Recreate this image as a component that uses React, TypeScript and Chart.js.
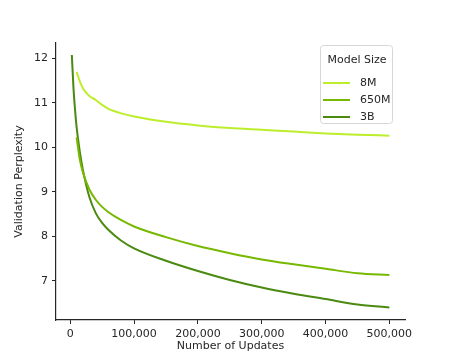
import React, { useEffect, useRef } from "react";
import { Chart, registerables } from "chart.js";

Chart.register(...registerables);

const updates = [2500, 5000, 7500, 10000, 15000, 20000, 30000, 40000, 50000, 60000, 80000, 100000, 150000, 200000, 250000, 300000, 350000, 400000, 450000, 500000];
const ppl8M = [null, null, null, 11.69, 11.48, 11.32, 11.15, 11.06, 10.95, 10.86, 10.76, 10.69, 10.57, 10.49, 10.43, 10.39, 10.35, 10.31, 10.28, 10.26];
const ppl650M = [null, null, null, 10.22, 9.72, 9.43, 9.05, 8.82, 8.66, 8.54, 8.36, 8.22, 7.98, 7.78, 7.62, 7.48, 7.37, 7.27, 7.17, 7.13];
const ppl3B = [12.07, 11.35, 10.85, 10.45, 9.9, 9.48, 8.88, 8.52, 8.3, 8.14, 7.9, 7.73, 7.45, 7.22, 7.02, 6.85, 6.71, 6.59, 6.47, 6.4];

const seriesLabels = ["8M", "650M", "3B"];
const seriesColors = ["#bdee2c", "#76b900", "#4a8a10"];
const legendTitle = "Model Size";
const xTicks = [0, 100000, 200000, 300000, 400000, 500000];
const yTicks = [7, 8, 9, 10, 11, 12];
const xTitle = "Number of Updates";
const yTitle = "Validation Perplexity";

const FONT = "'DejaVu Sans', sans-serif";
const TEXT = "#262626";

const legendPlugin = {
  id: "boxLegend",
  afterDraw(chart: any) {
    const { ctx, chartArea } = chart;
    const right = chartArea.right - 13;
    const top = chartArea.top + 2;
    const w = 72;
    const h = 78;
    const left = right - w;
    ctx.save();
    ctx.fillStyle = "rgba(255,255,255,0.85)";
    ctx.strokeStyle = "#d6d6d6";
    ctx.lineWidth = 1;
    ctx.beginPath();
    if (ctx.roundRect) ctx.roundRect(left + 0.5, top + 0.5, w, h, 3);
    else ctx.rect(left + 0.5, top + 0.5, w, h);
    ctx.fill();
    ctx.stroke();
    ctx.font = `11px ${FONT}`;
    ctx.fillStyle = TEXT;
    ctx.textBaseline = "middle";
    ctx.textAlign = "center";
    ctx.fillText(legendTitle, left + w / 2 + 1, top + 15);
    ctx.textAlign = "left";
    chart.data.datasets.forEach((ds: any, i: number) => {
      const y = top + 38 + i * 17;
      ctx.strokeStyle = ds.borderColor;
      ctx.lineWidth = 2;
      ctx.beginPath();
      ctx.moveTo(left + 3, y);
      ctx.lineTo(left + 30, y);
      ctx.stroke();
      ctx.fillStyle = TEXT;
      ctx.fillText(ds.label, left + 40, y);
    });
    ctx.restore();
  },
};

export default function App() {
  const ref = useRef<HTMLCanvasElement>(null);
  useEffect(() => {
    if (!ref.current) return;
    const series = [ppl8M, ppl650M, ppl3B];
    const chart = new Chart(ref.current, {
      type: "line",
      data: {
        datasets: series.map((vals, i) => ({
          label: seriesLabels[i],
          data: updates.map((u, j) => ({ x: u, y: vals[j] })).filter((p) => p.y !== null) as any,
          borderColor: seriesColors[i],
          backgroundColor: seriesColors[i],
          borderWidth: 2,
          pointRadius: 0,
          cubicInterpolationMode: "monotone" as const,
          fill: false,
        })),
      },
      options: {
        animation: false,
        responsive: false,
        maintainAspectRatio: false,
        layout: { padding: { left: 0, right: 45, top: 43, bottom: 0 } },
        plugins: {
          legend: { display: false },
          tooltip: { enabled: false },
        },
        scales: {
          x: {
            type: "linear",
            min: -22300,
            max: 524500,
            afterBuildTicks: (s: any) => {
              s.ticks = xTicks.map((v) => ({ value: v }));
            },
            afterFit: (s: any) => {
              s.height = 40;
            },
            ticks: {
              font: { family: FONT, size: 11 },
              color: TEXT,
              padding: 4,
              maxRotation: 0,
              callback: (v: any) => Number(v).toLocaleString("en-US"),
            },
            grid: { display: true, drawOnChartArea: false, drawTicks: true, tickLength: 4, color: "#262626", lineWidth: 1 },
            border: { display: true, color: "#262626", width: 1.2 },
            title: { display: true, text: xTitle, font: { family: FONT, size: 11 }, color: TEXT, padding: { top: 0, bottom: 7 } },
          },
          y: {
            type: "linear",
            min: 6.12,
            max: 12.34,
            afterBuildTicks: (s: any) => {
              s.ticks = yTicks.map((v) => ({ value: v }));
            },
            afterFit: (s: any) => {
              s.width = 56;
            },
            ticks: {
              font: { family: FONT, size: 11 },
              color: TEXT,
              padding: 4,
            },
            grid: { display: true, drawOnChartArea: false, drawTicks: true, tickLength: 4, color: "#262626", lineWidth: 1 },
            border: { display: true, color: "#262626", width: 1.2 },
            title: { display: true, text: yTitle, font: { family: FONT, size: 11 }, color: TEXT, padding: { top: 13, bottom: 0 } },
          },
        },
      },
      plugins: [legendPlugin],
    });
    return () => chart.destroy();
  }, []);
  return (
    <div style={{ position: "fixed", left: 0, top: 0, width: 450, height: 360, background: "#fff" }}>
      <canvas ref={ref} width={450} height={360} style={{ display: "block", width: 450, height: 360 }} />
    </div>
  );
}
